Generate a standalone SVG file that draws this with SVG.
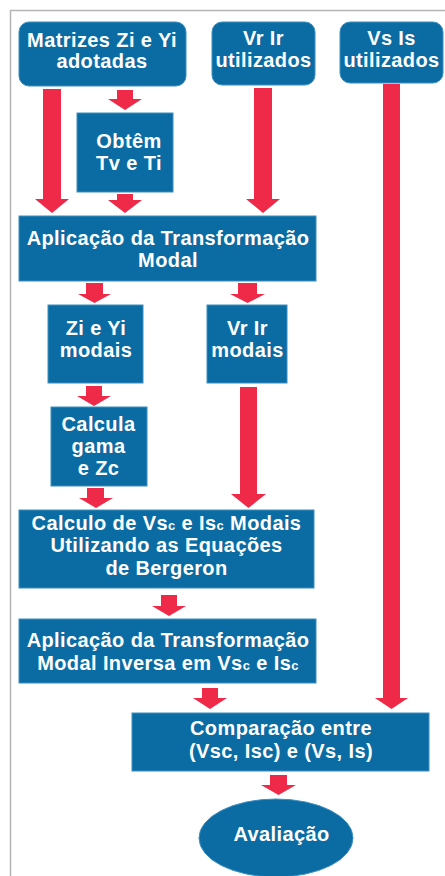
<svg xmlns="http://www.w3.org/2000/svg" width="445" height="876" viewBox="0 0 445 876">
<style>
.box{fill:#0a6ca3;stroke:#3d8fc0;stroke-width:1}
.arr{fill:#ee2a48}
text{font-family:"Liberation Sans",Arial,sans-serif;font-weight:bold;font-size:20px;letter-spacing:0.4px;fill:#ffffff;text-anchor:middle}
.sm{font-size:13px}
</style>
<rect x="0" y="0" width="445" height="876" fill="#ffffff"/>
<path d="M10.5 876 V10.5 H445" fill="none" stroke="#b4b4b4" stroke-width="1.5"/>
<g id="connectors">
<polygon class="arr" points="43,89 61,89 61,199 69,199 52,213 35,199 43,199"/>
<polygon class="arr" points="117,90 133,90 133,99 142,99 125,110 108,99 117,99"/>
<polygon class="arr" points="117,194 133,194 133,200 142,200 125,213 108,200 117,200"/>
<polygon class="arr" points="254,88 272,88 272,199 280,199 263,213 246,199 254,199"/>
<polygon class="arr" points="383,84 400,84 400,698 408,698 391.5,709 375,698 383,698"/>
<polygon class="arr" points="86,283 103,283 103,294 111,294 94.5,303 78,294 86,294"/>
<polygon class="arr" points="238,283 257,283 257,294 265,294 247.5,303 230,294 238,294"/>
<polygon class="arr" points="86,386 102,386 102,396 111,396 94,406 77,396 86,396"/>
<polygon class="arr" points="240,387 257,387 257,494 266,494 248.5,508 231,494 240,494"/>
<polygon class="arr" points="87,488 104,488 104,498 113,498 96,508 79,498 87,498"/>
<polygon class="arr" points="161,595 177,595 177,606 186,606 169,616 152,606 161,606"/>
<polygon class="arr" points="202,688 218,688 218,698 227,698 210,709 193,698 202,698"/>
<polygon class="arr" points="270,775 287,775 287,785 296,785 278.5,795 261,785 270,785"/>
</g>
<g id="matrizes">
<rect class="box" x="19" y="22" width="167" height="64" rx="10"/>
<text x="102" y="47">Matrizes Zi e Yi</text>
<text x="102" y="68">adotadas</text>
</g>
<g id="vrir">
<rect class="box" x="212" y="22" width="103" height="63" rx="10"/>
<text x="263.5" y="45">Vr Ir</text>
<text x="263.5" y="67">utilizados</text>
</g>
<g id="vsis">
<rect class="box" x="340" y="22" width="103" height="61" rx="10"/>
<text x="391.5" y="45">Vs Is</text>
<text x="391.5" y="67">utilizados</text>
</g>
<g id="obtem">
<rect class="box" x="77" y="113" width="96" height="79"/>
<text x="129" y="148">Obtêm</text>
<text x="129" y="170">Tv e Ti</text>
</g>
<g id="aplicacao">
<rect class="box" x="19" y="216" width="297" height="65"/>
<text x="168" y="245">Aplicação da Transformação</text>
<text x="168" y="267">Modal</text>
</g>
<g id="ziyi-modais">
<rect class="box" x="48" y="305" width="95" height="78"/>
<text x="96" y="335">Zi e Yi</text>
<text x="96" y="357">modais</text>
</g>
<g id="vrir-modais">
<rect class="box" x="207" y="305" width="80" height="78"/>
<text x="247.5" y="335">Vr Ir</text>
<text x="247.5" y="357">modais</text>
</g>
<g id="calcula">
<rect class="box" x="51" y="407" width="96" height="79"/>
<text x="98.5" y="431">Calcula</text>
<text x="98.5" y="453">gama</text>
<text x="98.5" y="475">e Zc</text>
</g>
<g id="calculo">
<rect class="box" x="19" y="510" width="295" height="78"/>
<text x="166.5" y="530">Calculo de Vs<tspan class="sm">c</tspan> e Is<tspan class="sm">c</tspan> Modais</text>
<text x="166.5" y="552">Utilizando as Equações</text>
<text x="166.5" y="575">de Bergeron</text>
</g>
<g id="aplicacao-inversa">
<rect class="box" x="19" y="619" width="297" height="64"/>
<text x="168" y="647">Aplicação da Transformação</text>
<text x="168" y="670">Modal Inversa em Vs<tspan class="sm">c</tspan> e Is<tspan class="sm">c</tspan></text>
</g>
<g id="comparacao">
<rect class="box" x="132" y="713" width="297" height="58"/>
<text x="281" y="735">Comparação entre</text>
<text x="281" y="758">(Vsc, Isc) e (Vs, Is)</text>
</g>
<g id="avaliacao">
<ellipse class="box" cx="276" cy="838" rx="77" ry="39"/>
<text x="281.5" y="841">Avaliação</text>
</g>
</svg>
